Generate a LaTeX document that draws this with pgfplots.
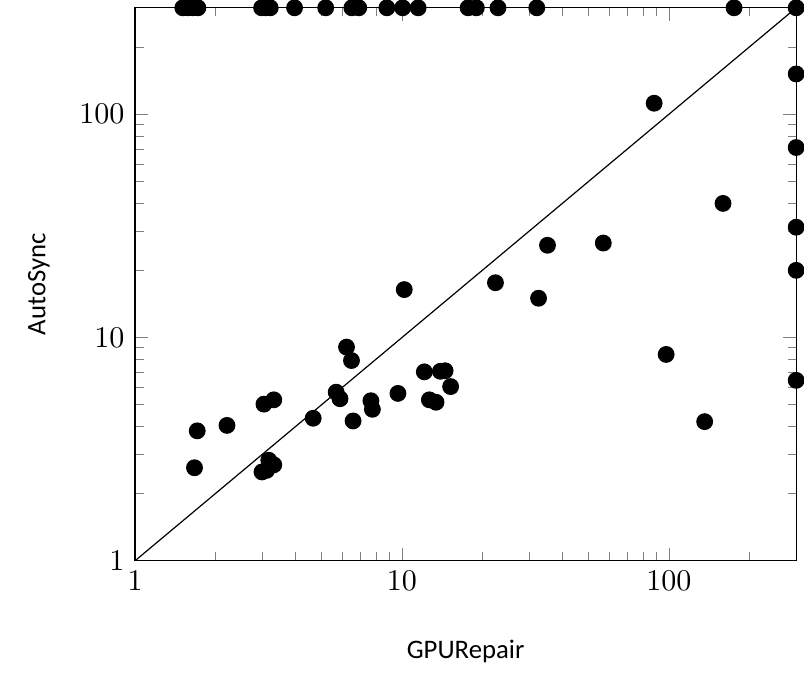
\documentclass[border=0pt]{standalone}
\usepackage{fontspec}
\usepackage{pgfplots}
\pgfplotsset{compat=1.18}
\newfontfamily\calibri{Carlito}
\begin{document}
\begin{tikzpicture}
  \begin{axis}[
      scale only axis,
      width=220pt, height=184pt,
      xmode=log, ymode=log,
      xmin=1, xmax=300, ymin=1, ymax=300,
      log ticks with fixed point,
      xtick={1,10,100}, ytick={1,10,100},
      minor xtick={2,3,4,5,6,7,8,9,20,30,40,50,60,70,80,90,200},
      minor ytick={2,3,4,5,6,7,8,9,20,30,40,50,60,70,80,90,200},
      xlabel={GPURepair}, ylabel={AutoSync},
      label style={font=\calibri\fontsize{8.9}{11}\selectfont},
      xlabel style={yshift=-9.5pt},
      ylabel style={yshift=3pt},
      clip=false,
    ]
    % diagonal
    \addplot[black, thin, no marks] coordinates {(1,1) (300,300)};
    \addplot[only marks, mark=*, mark size=2.6pt, black] coordinates {
      (6.20,9.06) (6.47,7.89) (5.67,5.69) (5.86,5.32) (9.66,5.62)
      (12.13,7.02) (13.93,7.06) (14.51,7.10) (15.22,6.03) (12.67,5.26)
      (13.42,5.13) (7.65,5.21) (7.75,4.77) (6.56,4.23) (4.65,4.35)
      (3.04,5.03) (3.31,5.26) (2.21,4.04) (1.71,3.82) (1.67,2.61)
      (3.17,2.82) (3.31,2.69) (2.99,2.50) (3.11,2.54)
      (35.1,25.9) (56.8,26.5) (22.4,17.6) (32.5,15.0) (10.2,16.4)
      (88.1,112.1) (159.6,39.9) (97.7,8.40) (136.2,4.20)
      % timeouts of AutoSync (top)
      (1.51,300) (1.58,300) (1.65,300) (1.72,300) (2.98,300) (3.08,300)
      (3.21,300) (3.96,300) (5.18,300) (6.49,300) (6.89,300) (8.78,300)
      (10.06,300) (11.5,300) (17.7,300) (19.0,300) (22.9,300) (32.0,300)
      (175.5,300) (300,300)
      % timeouts of GPURepair (right)
      (300,151.6) (300,71.0) (300,31.2) (300,20.0) (300,6.43)
    };
  \end{axis}
  % a little white room on the left and below, as in the reference
  \path ([xshift=-6pt,yshift=-2pt]current bounding box.south west);
\end{tikzpicture}
\end{document}
